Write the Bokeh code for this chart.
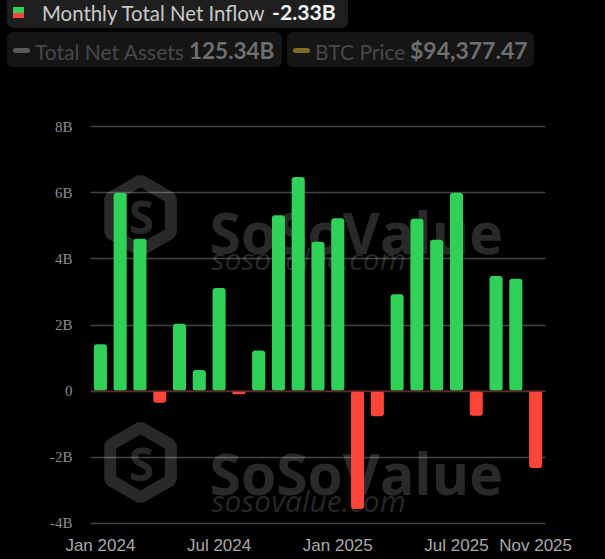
import math
from bokeh.plotting import figure
from bokeh.models import Range1d, FixedTicker, ColumnDataSource, Span, Div
from bokeh.layouts import column
from bokeh.embed import file_html
from bokeh.resources import INLINE
from bokeh.core.properties import value

# ---------------- data ----------------
months = ["Jan 2024", "Feb 2024", "Mar 2024", "Apr 2024", "May 2024", "Jun 2024",
          "Jul 2024", "Aug 2024", "Sep 2024", "Oct 2024", "Nov 2024", "Dec 2024",
          "Jan 2025", "Feb 2025", "Mar 2025", "Apr 2025", "May 2025", "Jun 2025",
          "Jul 2025", "Aug 2025", "Sep 2025", "Oct 2025", "Nov 2025"]
net_inflow = [1.42, 6.00, 4.61, -0.35, 2.04, 0.64, 3.12, -0.10, 1.23, 5.32, 6.48, 4.52,
              5.23, -3.57, -0.76, 2.93, 5.22, 4.58, 6.00, -0.75, 3.48, 3.40, -2.33]
tick_months = ["Jan 2024", "Jul 2024", "Jan 2025", "Jul 2025", "Nov 2025"]
y_ticks = [-4, -2, 0, 2, 4, 6, 8]
y_tick_labels = ["-4B", "-2B", "0", "2B", "4B", "6B", "8B"]

header_title = "Monthly Total Net Inflow"
header_value = "-2.33B"
assets_label = "Total Net Assets"
assets_value = "125.34B"
btc_label = "BTC Price"
btc_value = "$94,377.47"

GREEN = "#30d158"
RED = "#ff453a"

# ---------------- header (HTML) ----------------
W = 605
HH = 72

def box(l, t, w, h, bg, r=6):
    return (f'<div style="position:absolute;left:{l}px;top:{t}px;width:{w}px;height:{h}px;'
            f'background:{bg};border-radius:{r}px;"></div>')

def txt(l, baseline, s, color, bold=False, size=21):
    top = baseline - 0.887 * size
    fw = "700" if bold else "400"
    return (f'<span style="position:absolute;left:{l}px;top:{top:.1f}px;font-family:Lato;'
            f'font-size:{size}px;line-height:{size}px;font-weight:{fw};color:{color};'
            f'white-space:nowrap;">{s}</span>')

parts = [
    box(7, -8, 341, 36, "#1e1e1e"),
    box(13, 7, 11, 6, GREEN, 0),
    box(13, 12.5, 11, 5.5, RED, 0),
    txt(42, 21, header_title, "#c8c8c8", size=20.4),
    txt(272, 21, header_value, "#f5f5f5", bold=True, size=21.2),
    box(7, 32, 275, 35, "#151515"),
    box(287, 32, 247, 35, "#151515"),
    box(13, 48, 17, 5, "#5a5a5a", 2.5),
    box(293, 48, 17, 5, "#7d6a27", 2.5),
    txt(35, 59.5, assets_label, "#474747"),
    txt(189, 59.5, assets_value, "#6e6e6e", bold=True, size=22.5),
    txt(315, 59.5, btc_label, "#474747"),
    txt(410, 59.5, btc_value, "#6e6e6e", bold=True, size=23),
]
header = Div(text=(f'<div style="position:relative;width:{W}px;height:{HH}px;overflow:hidden;'
                   f'background:#000000;">' + "".join(parts) + '</div>'),
             width=W, height=HH, margin=(0, 0, 0, 0))

# ---------------- chart ----------------
CH = 559 - HH
ML, MR, MT, MB = 90, 60, 51, 33
PAD = 0.1
p = figure(width=W, height=CH, x_range=Range1d(-0.5, len(months) - 0.5),
           y_range=Range1d(y_ticks[0] - PAD, y_ticks[-1] + PAD),
           toolbar_location=None, output_backend="svg",
           min_border_left=ML, min_border_right=MR, min_border_top=MT, min_border_bottom=MB,
           background_fill_color=None, border_fill_color=None)
p.outline_line_color = None

# helpers to place watermark decoration by page pixel position
FRAME_W = W - ML - MR
FRAME_H = CH - MT - MB
Y_SPAN = (y_ticks[-1] - y_ticks[0]) + 2 * PAD
def dx(px):
    return -0.5 + (px - ML) * len(months) / FRAME_W
def dy(py):
    return y_ticks[-1] + PAD - (py - HH - MT) * Y_SPAN / FRAME_H

WM_ALPHA = 0.16
for cy, tb, sb in [(215, 231, 258), (462, 472, 500)]:
    p.scatter(x=[dx(140)], y=[dy(cy)], marker="hex", size=70, angle=math.pi / 6,
              fill_color=None, line_color="white", line_alpha=WM_ALPHA, line_width=12)
    p.text(x=[dx(141)], y=[dy(cy)], text=["S"], text_font=value("Open Sans"),
           text_font_size="46px", text_font_style="bold", text_color="white",
           text_alpha=WM_ALPHA, text_align="center", text_baseline="middle")
    p.text(x=[dx(209)], y=[dy(tb)], text=["SoSoValue"], text_font=value("Open Sans"),
           text_font_size="57px", text_font_style="bold", text_color="white",
           text_alpha=WM_ALPHA, text_baseline="alphabetic")
    p.text(x=[dx(211)], y=[dy(sb)], text=["sosovalue.com"], text_font=value("Open Sans"),
           text_font_size="30px", text_font_style="italic", text_color="white",
           text_alpha=WM_ALPHA, text_baseline="alphabetic")

colors = [GREEN if v >= 0 else RED for v in net_inflow]
src = ColumnDataSource(dict(x=list(range(len(months))), top=net_inflow, color=colors))
p.vbar(x="x", top="top", bottom=0, width=0.66, fill_color="color", line_color=None,
       border_radius=3, source=src)

p.add_layout(Span(location=0, dimension="width", line_color="#5a2323", line_width=1.5))

p.xgrid.visible = False
p.ygrid.grid_line_color = "#444444"
p.ygrid.grid_line_width = 1.3

p.yaxis.ticker = FixedTicker(ticks=y_ticks)
p.yaxis.major_label_overrides = dict(zip(y_ticks, y_tick_labels))
p.yaxis.axis_line_color = None
p.yaxis.major_tick_line_color = None
p.yaxis.minor_tick_line_color = None
p.yaxis.major_label_text_color = "#8c8c8c"
p.yaxis.major_label_text_font = "Liberation Serif"
p.yaxis.major_label_text_font_size = "15px"
p.yaxis.major_label_standoff = 12

xt = [months.index(m) for m in tick_months]
p.xaxis.ticker = FixedTicker(ticks=xt)
p.xaxis.major_label_overrides = {i: months[i] for i in xt}
p.xaxis.axis_line_color = None
p.xaxis.major_tick_line_color = None
p.xaxis.minor_tick_line_color = None
p.xaxis.major_label_text_color = "#a9a9a9"
p.xaxis.major_label_text_font = "Liberation Sans"
p.xaxis.major_label_text_font_size = "17px"
p.xaxis.major_label_standoff = 3

layout = column(header, p, spacing=0)
html = file_html(layout, INLINE)
cut = html.rfind("</head>")
html = (html[:cut] + "<style>html, body { background-color: #000000 !important; }</style>"
        + html[cut:])
open("out.html", "w").write(html)
